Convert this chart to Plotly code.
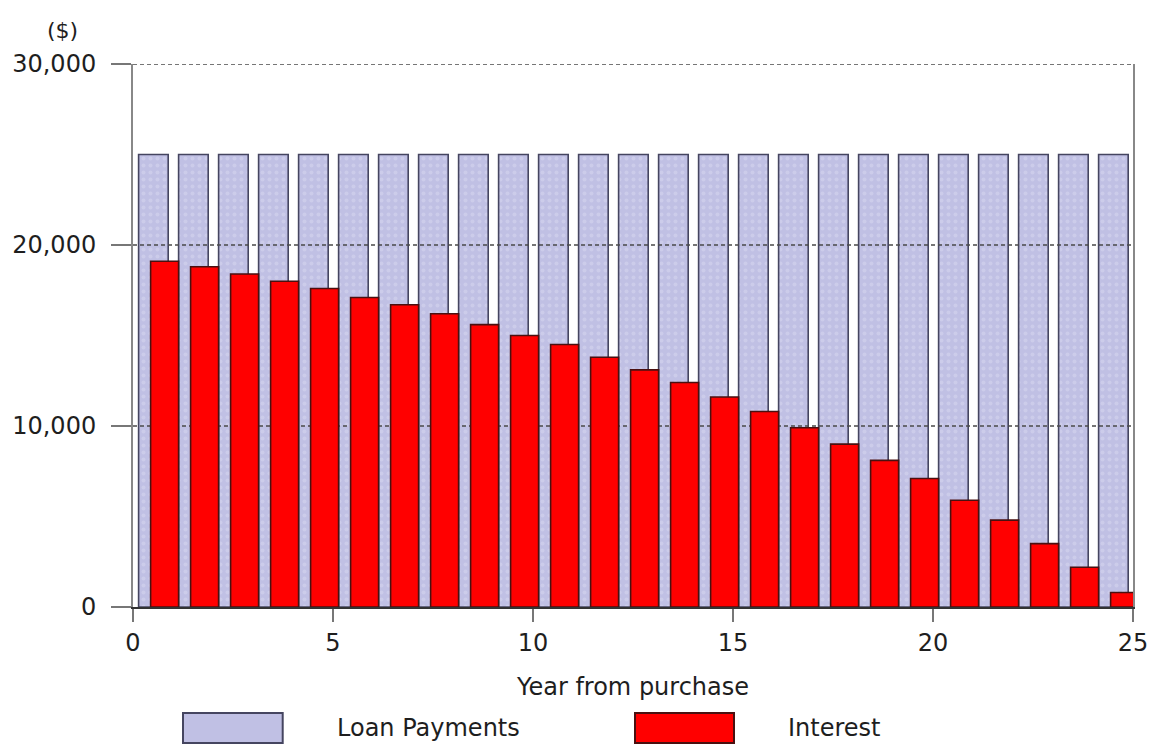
import plotly.graph_objects as go

# Annual loan schedule (USD)
years = list(range(1, 26))
loan_payments = [25000, 25000, 25000, 25000, 25000, 25000, 25000, 25000, 25000, 25000,
                 25000, 25000, 25000, 25000, 25000, 25000, 25000, 25000, 25000, 25000,
                 25000, 25000, 25000, 25000, 25000]
interest = [19100, 18800, 18400, 18000, 17600, 17100, 16700, 16200, 15600, 15000,
            14500, 13800, 13100, 12400, 11600, 10800, 9900, 9000, 8100, 7100,
            5900, 4800, 3500, 2200, 800]

x_ticks = [0, 5, 10, 15, 20, 25]
y_ticks = [0, 10000, 20000, 30000]

FONT = "DejaVu Sans"
TXT = "#1e1e1e"
LAVENDER = "#c0c0e4"
RED = "#ff0000"

fig = go.Figure()

# Loan payment bars (back layer)
fig.add_trace(go.Bar(
    x=years, y=loan_payments, name="Loan Payments",
    offset=-0.86, width=0.74,
    marker=dict(color=LAVENDER, line=dict(color="#454560", width=1.6),
                pattern=dict(shape=".", fgcolor="#d8d8f0", bgcolor=LAVENDER,
                             size=7, solidity=0.25)),
    xaxis="x", yaxis="y", showlegend=False,
))

# Dashed gridlines drawn over the payment bars
for g in y_ticks[1:]:
    fig.add_trace(go.Scatter(
        x=[x_ticks[0], x_ticks[-1]], y=[g, g], mode="lines",
        line=dict(color="#4a4a4a", width=1.5, dash="4px,3px"),
        hoverinfo="skip", showlegend=False, cliponaxis=False,
        xaxis="x", yaxis="y",
    ))

# Interest bars on an overlaid pair of axes so they sit above the gridlines
fig.add_trace(go.Bar(
    x=years, y=interest, name="Interest",
    offset=-0.56, width=0.70,
    marker=dict(color=RED, line=dict(color="#4a1010", width=1.6)),
    xaxis="x2", yaxis="y2", showlegend=False,
))

axis_font = dict(family=FONT, size=24, color=TXT)

fig.update_layout(
    width=1160, height=747,
    margin=dict(l=133, r=25, t=64, b=140),
    paper_bgcolor="white", plot_bgcolor="white",
    barmode="overlay",
    font=dict(family=FONT, size=24, color=TXT),
    xaxis=dict(
        range=[x_ticks[0], x_ticks[-1]], tickvals=x_ticks,
        showgrid=False, zeroline=False,
        showline=True, linecolor="#333333", linewidth=2,
        ticks="outside", ticklen=13, tickwidth=1.5, tickcolor="#777777",
        ticklabelstandoff=0, tickfont=axis_font,
        title=dict(text="Year from purchase", font=axis_font, standoff=22),
    ),
    yaxis=dict(
        range=[y_ticks[0], y_ticks[-1]], tickvals=y_ticks, tickformat=",d",
        showgrid=False, zeroline=False,
        showline=True, mirror=True, linecolor="#888888", linewidth=2,
        ticks="outside", ticklen=20, tickwidth=1.5, tickcolor="#777777",
        ticklabelstandoff=10, tickfont=axis_font,
    ),
    xaxis2=dict(range=[x_ticks[0], x_ticks[-1]], overlaying="x", visible=False),
    yaxis2=dict(range=[y_ticks[0], y_ticks[-1]], overlaying="y", visible=False),
)

# Unit label above the value axis
fig.add_annotation(
    text="($)", xref="paper", yref="paper", x=-0.071, y=1.0,
    xanchor="center", yanchor="middle", yshift=34,
    showarrow=False, font=dict(family=FONT, size=22, color=TXT),
)

# Legend row below the axis title: large swatches with labels
legend_items = [
    ("Loan Payments", LAVENDER, "#454560", 0.050, 0.1497, 0.2016),
    ("Interest", RED, "#4a1010", 0.502, 0.601, 0.6527),
]
for label, fill, edge, sx0, sx1, tx in legend_items:
    fig.add_shape(
        type="rect", xref="paper", yref="paper",
        x0=sx0, x1=sx1, y0=-0.2505, y1=-0.1952,
        fillcolor=fill, line=dict(color=edge, width=2),
    )
    fig.add_annotation(
        text=label, xref="paper", yref="paper", x=tx, y=-0.2228,
        xanchor="left", yanchor="middle", showarrow=False,
        font=dict(family=FONT, size=24, color=TXT),
    )

fig.write_html("out.html")
